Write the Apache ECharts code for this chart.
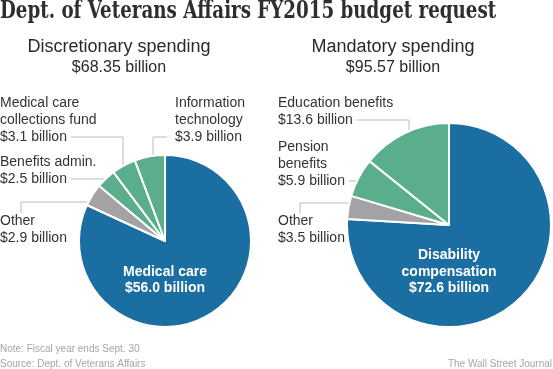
<!DOCTYPE html>
<html><head><meta charset="utf-8">
<script src="https://cdn.jsdelivr.net/npm/echarts@6/dist/echarts.min.js"></script>
<style>html,body{margin:0;padding:0;background:#fff}#c{width:553px;height:369px}</style>
</head><body><div id="c"></div>
<script>
// ---- data ----
const discNames = ['Medical care', 'Other', 'Benefits admin.', 'Medical care collections fund', 'Information technology'];
const discValues = [56.0, 2.9, 2.5, 3.1, 3.9];
const discLabels = ['Medical care\n$56.0 billion', 'Other\n$2.9 billion', 'Benefits admin.\n$2.5 billion', 'Medical care\ncollections fund\n$3.1 billion', 'Information\ntechnology\n$3.9 billion'];
const mandNames = ['Disability compensation', 'Other', 'Pension benefits', 'Education benefits'];
const mandValues = [72.6, 3.5, 5.9, 13.6];
const mandLabels = ['Disability\ncompensation\n$72.6 billion', 'Other\n$3.5 billion', 'Pension\nbenefits\n$5.9 billion', 'Education benefits\n$13.6 billion'];
const discKinds = ['main', 'other', 'green', 'green', 'green'];
const mandKinds = ['main', 'other', 'green', 'green'];

const COLORS = {main: '#1b6ea1', other: '#a3a3a6', green: '#5aae8b'};
const LEFT = {cx: 165, cy: 241, r: 86};
const RIGHT = {cx: 449, cy: 225, r: 102};

// label layouts: text position + leader path (elbows); last point is computed on the pie edge
const leftLayout = [
  {x: 165, y: 280, align: 'center', inside: true},
  {x: 0, y: 230, pts: [[21, 213], [21, 202]], edge: 'h'},
  {x: 0, y: 170.5, pts: [[71, 179]], edge: 'h'},
  {x: 0, y: 120, pts: [[71, 137], [123, 137]], edge: 'v'},
  {x: 175, y: 120, pts: [[167, 137], [153, 137]], edge: 'v'}
];
const rightLayout = [
  {x: 449, y: 272, align: 'center', inside: true},
  {x: 278, y: 230, pts: [[300, 214], [300, 203]], edge: 'h'},
  {x: 278, y: 164.5, pts: [[349, 181]], edge: 'h'},
  {x: 278, y: 111.5, pts: [[357, 120], [409, 120]], edge: 'v'}
];

function edgePoint(geo, p, edge) {
  if (edge === 'h') {
    const dy = p[1] - geo.cy;
    const dx = Math.sqrt(Math.max(0, geo.r * geo.r - dy * dy));
    return [p[0] < geo.cx ? geo.cx - dx : geo.cx + dx, p[1]];
  } else {
    const dx = p[0] - geo.cx;
    const dy = Math.sqrt(Math.max(0, geo.r * geo.r - dx * dx));
    return [p[0], geo.cy - dy];
  }
}

function buildData(names, values, labels, kinds) {
  return names.map((n, i) => ({
    name: n, value: values[i], labelText: labels[i],
    itemStyle: {color: COLORS[kinds[i]]},
    label: kinds[i] === 'main'
      ? {color: '#fff', fontWeight: 'bold', fontSize: 14, lineHeight: 16.5}
      : {color: '#333', fontSize: 14, lineHeight: 17},
    labelLine: {show: kinds[i] !== 'main'}
  }));
}

function makeLayout(layout, geo) {
  return function (params) {
    const L = layout[params.dataIndex];
    const out = {x: L.x, y: L.y, align: L.align || 'left', verticalAlign: 'middle', hideOverlap: false, moveOverlap: null};
    if (!L.inside) {
      const last = L.pts[L.pts.length - 1];
      out.labelLinePoints = L.pts.concat([edgePoint(geo, last, L.edge)]);
    }
    return out;
  };
}

function pieSeries(data, geo, layout) {
  return {
    type: 'pie',
    center: [geo.cx, geo.cy],
    radius: [0, geo.r],
    startAngle: 90,
    clockwise: true,
    animation: false,
    silent: true,
    avoidLabelOverlap: false,
    itemStyle: {borderColor: '#fff', borderWidth: 2},
    label: {show: true, fontFamily: 'Liberation Sans, Arial, sans-serif', formatter: p => p.data.labelText},
    labelLine: {show: true, lineStyle: {color: '#bbb', width: 1}},
    labelLayout: makeLayout(layout, geo),
    data: data
  };
}

const chart = echarts.init(document.getElementById('c'), null, {renderer: 'canvas'});
chart.setOption({
  backgroundColor: '#fff',
  graphic: [
    {type: 'text', x: 0, y: 0, scaleX: 0.846, style: {text: 'Dept. of Veterans Affairs FY2015 budget request', font: 'bold 24px "DejaVu Serif Condensed", "DejaVu Serif", serif', fill: '#2e2e2e'}},
    {type: 'text', style: {x: 119, y: 47, text: 'Discretionary spending', align: 'center', verticalAlign: 'middle', font: '18px "Liberation Sans", Arial, sans-serif', fill: '#2a2a2a'}},
    {type: 'text', style: {x: 119, y: 68, text: '$68.35 billion', align: 'center', verticalAlign: 'middle', font: '16px "Liberation Sans", Arial, sans-serif', fill: '#2a2a2a'}},
    {type: 'text', style: {x: 393, y: 47, text: 'Mandatory spending', align: 'center', verticalAlign: 'middle', font: '18px "Liberation Sans", Arial, sans-serif', fill: '#2a2a2a'}},
    {type: 'text', style: {x: 393, y: 68, text: '$95.57 billion', align: 'center', verticalAlign: 'middle', font: '16px "Liberation Sans", Arial, sans-serif', fill: '#2a2a2a'}},
    {type: 'text', style: {x: 0, y: 349, text: 'Note: Fiscal year ends Sept. 30', verticalAlign: 'middle', font: '10px "Liberation Sans", Arial, sans-serif', fill: '#a5a5a5'}},
    {type: 'text', style: {x: 0, y: 364, text: 'Source: Dept. of Veterans Affairs', verticalAlign: 'middle', font: '10px "Liberation Sans", Arial, sans-serif', fill: '#a5a5a5'}},
    {type: 'text', style: {x: 552, y: 364, text: 'The Wall Street Journal', align: 'right', verticalAlign: 'middle', font: '10px "Liberation Sans", Arial, sans-serif', fill: '#a5a5a5'}}
  ],
  series: [
    pieSeries(buildData(discNames, discValues, discLabels, discKinds), LEFT, leftLayout),
    pieSeries(buildData(mandNames, mandValues, mandLabels, mandKinds), RIGHT, rightLayout)
  ]
});
</script></body></html>
